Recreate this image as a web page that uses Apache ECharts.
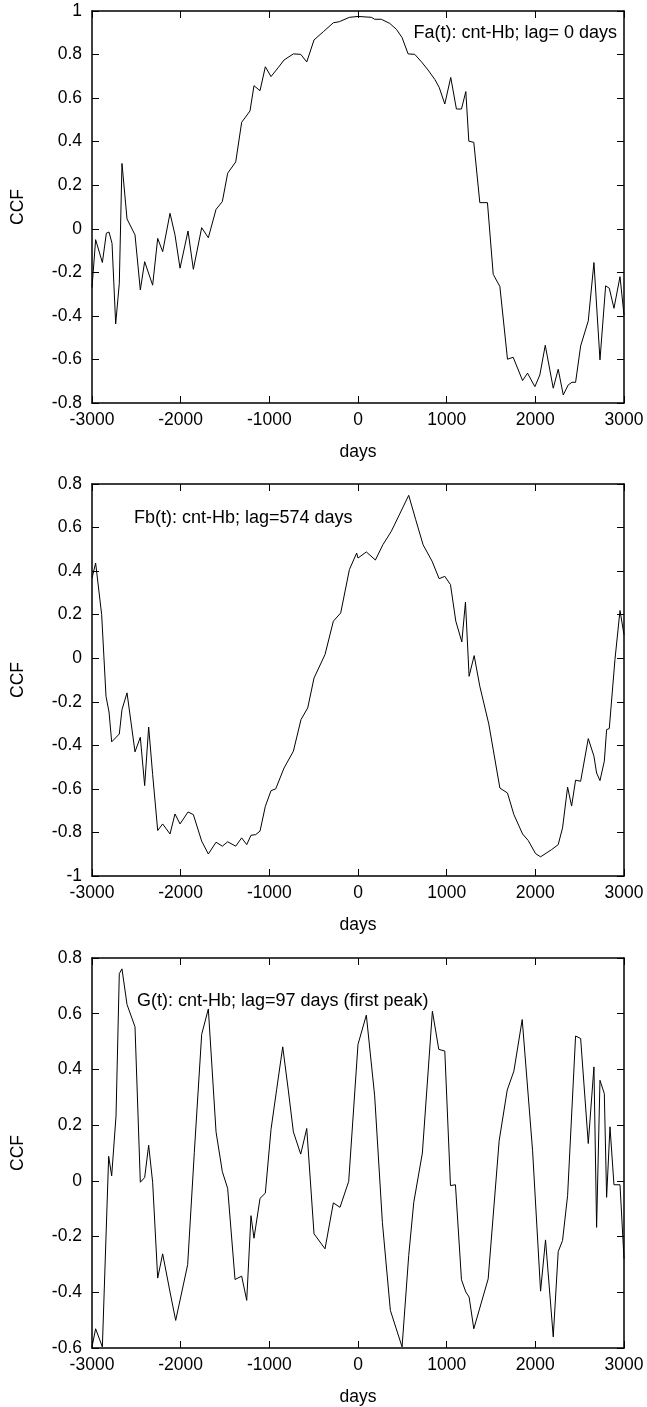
<!DOCTYPE html>
<html lang="en">
<head>
    <meta charset="UTF-8">
    <title>CCF cnt-Hb</title>
    <script src="https://cdn.jsdelivr.net/npm/echarts@6/dist/echarts.min.js"></script>
    <style>
        body { margin: 0; padding: 0; background: #fff; }
        #main { width: 647px; height: 1407px; }
    </style>
</head>
<body>
    <div id="main"></div>

    <script>
        // [days, CCF]
        const faData = [
            [-3000, -0.27], [-2959, -0.05], [-2883, -0.155], [-2838, -0.02], [-2808, -0.015],
            [-2774, -0.067], [-2733, -0.437], [-2692, -0.25], [-2662, 0.30], [-2605, 0.045],
            [-2515, -0.028], [-2455, -0.281], [-2406, -0.151], [-2316, -0.259], [-2259, -0.044],
            [-2203, -0.105], [-2120, 0.071], [-2064, -0.028], [-2007, -0.181], [-1917, -0.01],
            [-1857, -0.186], [-1763, 0.005], [-1688, -0.041], [-1601, 0.089], [-1530, 0.125],
            [-1470, 0.255], [-1379, 0.307], [-1312, 0.489], [-1218, 0.541], [-1173, 0.657],
            [-1105, 0.634], [-1045, 0.744], [-981, 0.699], [-900, 0.74], [-834, 0.775],
            [-729, 0.803], [-646, 0.801], [-578, 0.766], [-496, 0.867], [-391, 0.905],
            [-278, 0.946], [-210, 0.951], [-97, 0.971], [0, 0.975], [151, 0.971],
            [188, 0.962], [263, 0.962], [358, 0.943], [433, 0.916], [497, 0.878],
            [565, 0.803], [640, 0.801], [715, 0.767], [790, 0.729], [866, 0.686],
            [915, 0.65], [979, 0.573], [1046, 0.695], [1110, 0.55], [1167, 0.55],
            [1216, 0.63], [1250, 0.402], [1306, 0.397], [1374, 0.12], [1460, 0.12],
            [1525, -0.209], [1600, -0.265], [1686, -0.599], [1750, -0.59], [1856, -0.697],
            [1912, -0.663], [1995, -0.725], [2051, -0.671], [2112, -0.535], [2202, -0.732],
            [2258, -0.645], [2315, -0.763], [2371, -0.717], [2413, -0.705], [2454, -0.705],
            [2511, -0.538], [2597, -0.423], [2661, -0.155], [2729, -0.602], [2793, -0.262],
            [2834, -0.273], [2887, -0.365], [2955, -0.22], [3000, -0.396]
        ];

        const fbData = [
            [-3000, 0.368], [-2959, 0.437], [-2891, 0.2], [-2842, -0.175], [-2808, -0.247],
            [-2778, -0.384], [-2692, -0.348], [-2662, -0.236], [-2605, -0.159], [-2515, -0.43],
            [-2455, -0.363], [-2406, -0.585], [-2361, -0.316], [-2316, -0.534], [-2259, -0.791],
            [-2203, -0.761], [-2120, -0.807], [-2064, -0.715], [-2007, -0.761], [-1917, -0.706],
            [-1857, -0.718], [-1763, -0.84], [-1688, -0.899], [-1601, -0.845], [-1530, -0.863],
            [-1470, -0.843], [-1379, -0.863], [-1312, -0.825], [-1255, -0.856], [-1207, -0.813],
            [-1154, -0.81], [-1105, -0.794], [-1045, -0.68], [-981, -0.608], [-928, -0.6],
            [-834, -0.504], [-729, -0.427], [-643, -0.282], [-567, -0.228], [-496, -0.091],
            [-372, 0.017], [-278, 0.17], [-195, 0.208], [-97, 0.407], [-15, 0.483],
            [0, 0.46], [94, 0.488], [196, 0.451], [282, 0.522], [376, 0.583],
            [470, 0.662], [572, 0.748], [651, 0.636], [734, 0.521], [836, 0.445],
            [915, 0.365], [979, 0.376], [1043, 0.338], [1103, 0.17], [1171, 0.075],
            [1212, 0.258], [1253, -0.083], [1310, 0.012], [1374, -0.129], [1475, -0.302],
            [1600, -0.596], [1686, -0.619], [1758, -0.718], [1856, -0.807], [1920, -0.837],
            [2002, -0.897], [2059, -0.912], [2183, -0.879], [2258, -0.856], [2307, -0.779],
            [2364, -0.592], [2409, -0.679], [2454, -0.56], [2511, -0.565], [2597, -0.369],
            [2661, -0.45], [2691, -0.527], [2729, -0.562], [2778, -0.473], [2804, -0.328],
            [2834, -0.323], [2898, -0.006], [2955, 0.219], [3000, 0.108]
        ];

        const gData = [
            [-3000, -0.596], [-2959, -0.531], [-2883, -0.596], [-2812, 0.088], [-2778, 0.018],
            [-2729, 0.233], [-2692, 0.744], [-2662, 0.761], [-2605, 0.633], [-2515, 0.553],
            [-2455, -0.005], [-2406, 0.012], [-2361, 0.128], [-2316, -0.005], [-2259, -0.349],
            [-2203, -0.262], [-2120, -0.399], [-2056, -0.501], [-1921, -0.301], [-1846, 0.102],
            [-1763, 0.526], [-1688, 0.617], [-1601, 0.176], [-1530, 0.033], [-1470, -0.027],
            [-1387, -0.354], [-1312, -0.342], [-1255, -0.429], [-1207, -0.125], [-1173, -0.206],
            [-1105, -0.063], [-1045, -0.044], [-981, 0.185], [-917, 0.329], [-849, 0.481],
            [-785, 0.323], [-729, 0.176], [-646, 0.096], [-578, 0.188], [-496, -0.19],
            [-372, -0.244], [-278, -0.079], [-203, -0.095], [-105, -0.002], [0, 0.49],
            [94, 0.595], [188, 0.305], [275, -0.149], [365, -0.465], [497, -0.596],
            [572, -0.268], [629, -0.077], [726, 0.1], [839, 0.609], [911, 0.472],
            [979, 0.466], [1043, -0.017], [1099, -0.014], [1167, -0.355], [1216, -0.399],
            [1253, -0.417], [1306, -0.531], [1468, -0.352], [1592, 0.144], [1683, 0.326],
            [1758, 0.394], [1852, 0.579], [1969, 0.108], [2059, -0.396], [2115, -0.212],
            [2202, -0.56], [2258, -0.254], [2307, -0.214], [2364, -0.053], [2454, 0.52],
            [2511, 0.511], [2597, 0.134], [2661, 0.409], [2691, -0.167], [2729, 0.361],
            [2778, 0.313], [2804, -0.059], [2842, 0.194], [2887, -0.014], [2955, -0.014],
            [3000, -0.28]
        ];

        const labels = [
            'Fa(t): cnt-Hb; lag= 0 days',
            'Fb(t): cnt-Hb; lag=574 days',
            'G(t): cnt-Hb; lag=97 days (first peak)'
        ];
        const yRanges = [[-0.8, 1], [-1, 0.8], [-0.6, 0.8]];

        var chartDom = document.getElementById('main');
        var myChart = echarts.init(chartDom);

        var font = 'Liberation Sans, Arial, sans-serif';
        var fs = 17.5;
        var grids = [
            { left: 92, width: 532, top: 11, height: 392 },
            { left: 92, width: 532, top: 484, height: 392 },
            { left: 92, width: 532, top: 958, height: 391 }
        ];

        var xAxes = [], yAxes = [];
        grids.forEach(function (g, i) {
            var line = { show: true, onZero: false, lineStyle: { color: '#000', width: 1.5 } };
            var tick = { show: true, inside: true, length: 7, lineStyle: { color: '#000', width: 1 } };
            xAxes.push({
                type: 'value', gridIndex: i, min: -3000, max: 3000, interval: 1000,
                position: 'bottom', axisLine: line, axisTick: tick, splitLine: { show: false },
                axisLabel: {
                    color: '#000', fontSize: fs, fontFamily: font, margin: 8,
                    formatter: function (v) { return String(v); }
                },
                name: 'days', nameLocation: 'middle', nameGap: 40,
                nameTextStyle: { color: '#000', fontSize: fs, fontFamily: font }
            });
            xAxes.push({
                type: 'value', gridIndex: i, min: -3000, max: 3000, interval: 1000,
                position: 'top', axisLine: line, axisTick: tick, splitLine: { show: false },
                axisLabel: { show: false }
            });
            yAxes.push({
                type: 'value', gridIndex: i, min: yRanges[i][0], max: yRanges[i][1], interval: 0.2,
                position: 'left', axisLine: line, axisTick: tick, splitLine: { show: false },
                axisLabel: { color: '#000', fontSize: fs, fontFamily: font, margin: 10 },
                name: 'CCF', nameLocation: 'middle', nameGap: 65, nameRotate: 90,
                nameTextStyle: { color: '#000', fontSize: fs, fontFamily: font }
            });
            yAxes.push({
                type: 'value', gridIndex: i, min: yRanges[i][0], max: yRanges[i][1], interval: 0.2,
                position: 'right', axisLine: line, axisTick: tick, splitLine: { show: false },
                axisLabel: { show: false }
            });
        });

        var series = [faData, fbData, gData].map(function (d, i) {
            return {
                type: 'line', xAxisIndex: i * 2, yAxisIndex: i * 2, data: d,
                showSymbol: false, silent: true,
                lineStyle: { color: '#000', width: 1 }
            };
        });

        var textStyle = { fill: '#000', fontSize: 18, fontFamily: font };
        var option = {
            animation: false,
            grid: grids,
            xAxis: xAxes,
            yAxis: yAxes,
            series: series,
            graphic: [
                { type: 'text', right: 30, top: 24, style: Object.assign({ text: labels[0] }, textStyle) },
                { type: 'text', left: 134, top: 509, style: Object.assign({ text: labels[1] }, textStyle) },
                { type: 'text', left: 137, top: 992, style: Object.assign({ text: labels[2] }, textStyle) }
            ]
        };

        option && myChart.setOption(option);
    </script>
</body>
</html>
